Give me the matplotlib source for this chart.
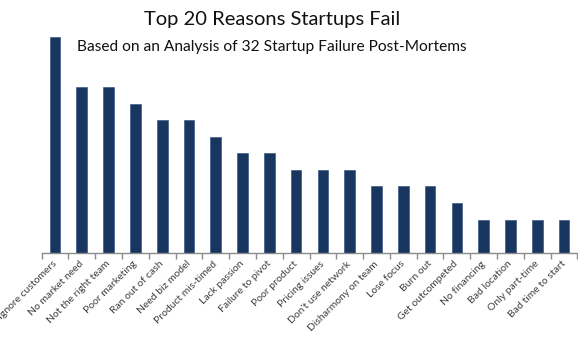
import matplotlib
matplotlib.use("Agg")
import matplotlib.pyplot as plt
import numpy as np

reasons = [
    "Ignore customers", "No market need", "Not the right team", "Poor marketing",
    "Ran out of cash", "Need biz model", "Product mis-timed", "Lack passion",
    "Failure to pivot", "Poor product", "Pricing issues", "Don't use network",
    "Disharmony on team", "Lose focus", "Burn out", "Get outcompeted",
    "No financing", "Bad location", "Only part-time", "Bad time to start",
]
counts = [13, 10, 10, 9, 8, 8, 7, 6, 6, 5, 5, 5, 4, 4, 4, 3, 2, 2, 2, 2]

plt.rcParams['font.family'] = ['Lato', 'DejaVu Sans']

fig = plt.figure(figsize=(5.78, 3.44), dpi=100)
ax = fig.add_axes([0.072, 0.2654, 0.927, 0.626])

x = np.arange(len(reasons))
ax.bar(x, counts, width=0.4, color='#183660', edgecolor='#2a4a75', linewidth=0.4)
ax.set_xlim(-0.5, len(reasons) - 0.5)
ax.set_ylim(0, 13)

for s in ['top', 'right', 'left']:
    ax.spines[s].set_visible(False)
ax.spines['bottom'].set_color('#8c8c8c')
ax.spines['bottom'].set_linewidth(1.0)
ax.set_yticks([])

ax.set_xticks(x)
ax.set_xticklabels(reasons, rotation=45, ha='right', va='center',
                   rotation_mode='anchor', fontsize=7.5, color='#404040')
ax.tick_params(axis='x', which='major', length=0, pad=7)
ax.set_xticks(np.arange(-0.5, len(reasons)), minor=True)
ax.tick_params(axis='x', which='minor', length=4, color='#8c8c8c', width=1.0)

fig.text(0.471, 0.942, "Top 20 Reasons Startups Fail", ha='center', va='center',
         fontsize=14.5, color='#111111')
fig.text(0.471, 0.862, "Based on an Analysis of 32 Startup Failure Post-Mortems",
         ha='center', va='center', fontsize=11.2, color='#111111')

fig.savefig("out.png", dpi=100)
